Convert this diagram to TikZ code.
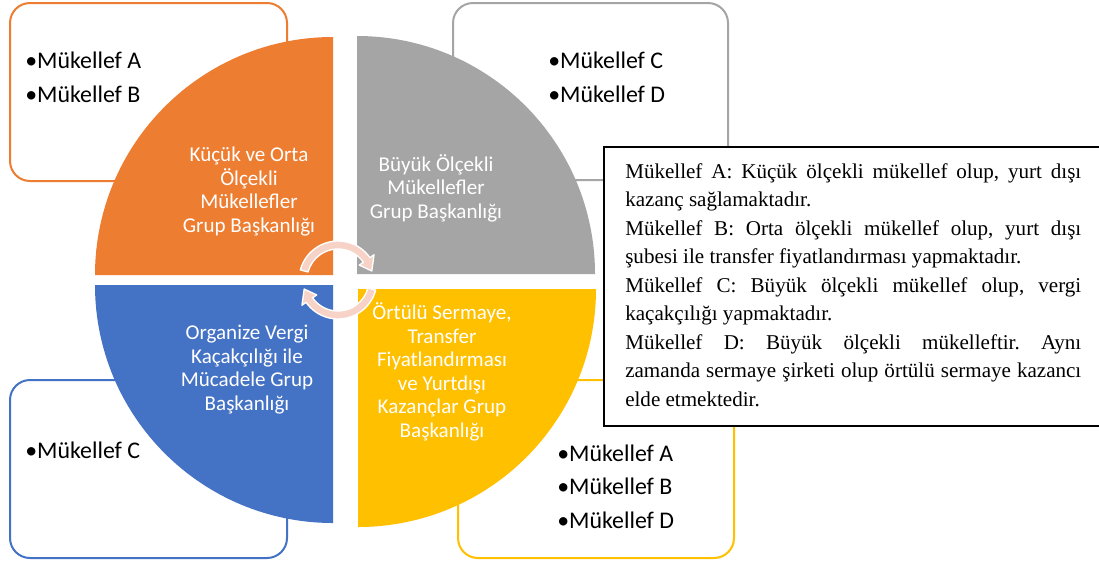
\documentclass[tikz,border=0pt]{standalone}
\usepackage{fontspec}
\setmainfont{Liberation Serif}
\newfontfamily\calibrifont{Carlito}

\definecolor{accOrange}{HTML}{ED7D31}
\definecolor{accGray}{HTML}{A5A5A5}
\definecolor{accBlue}{HTML}{4472C4}
\definecolor{accGold}{HTML}{FFC000}
\definecolor{cyclePink}{HTML}{F6D3C6}

\begin{document}
\begin{tikzpicture}[x=0.75pt,y=-0.75pt,
  panel/.style={line width=1.5pt, fill=white, rounded corners=15pt},
  % multi-line nodes: the base anchor sits on the last line
  lbl/.style={text=white, align=center, inner sep=0pt, anchor=base,
    font=\calibrifont\fontsize{15.8}{17.6}\selectfont},
  items/.style={align=left, inner sep=0pt, anchor=base west,
    font=\calibrifont\fontsize{17.9}{24.8}\selectfont},
  cyc/.style={fill=cyclePink, draw=white, line width=1pt, line join=round}]

\clip (0,0) rectangle (1099,565);
\fill[white] (0,0) rectangle (1099,565);

% rounded side panels
\draw[panel, draw=accOrange] (10,3) rectangle (287,181);
\draw[panel, draw=accGray]   (453,3) rectangle (728,180);
\draw[panel, draw=accBlue]   (10,380) rectangle (287,558);
\draw[panel, draw=accGold]   (458,380) rectangle (734,558);

% four quarter discs
\fill[accOrange] (333,275) -- (95,275) arc[start angle=180, end angle=270, radius=238] -- cycle;
\fill[accGray]   (357,274) -- (357,36) arc[start angle=270, end angle=360, radius=238] -- cycle;
\fill[accBlue]   (333,285) -- (333,523) arc[start angle=90, end angle=180, radius=238] -- cycle;
\fill[accGold]   (358,289) -- (596,289) arc[start angle=0, end angle=90, radius=238] -- cycle;

% circular arrows in the middle
\begin{scope}[shift={(338,280)}]
  \path[cyc] (195:39) arc[start angle=195, end angle=325, radius=39]
    -- (325:44) -- (345:35) -- (325:26) -- (325:31)
    arc[start angle=325, end angle=195, radius=31] -- cycle;
  \path[cyc] (15:39) arc[start angle=15, end angle=145, radius=39]
    -- (145:44) -- (165:35) -- (145:26) -- (145:31)
    arc[start angle=145, end angle=15, radius=31] -- cycle;
\end{scope}

% quarter labels (positioned by the baseline of their last line)
\node[lbl] (small) at (249,232) {Küçük ve Orta\\Ölçekli\\Mükellefler\\Grup Başkanlığı};
\node[lbl] (large) at (436,218) {Büyük Ölçekli\\Mükellefler\\Grup Başkanlığı};
\node[lbl] (organized) at (247,410) {Organize Vergi\\Kaçakçılığı ile\\Mücadele Grup\\Başkanlığı};
\node[lbl] (transfer) at (442,437) {Örtülü Sermaye,\\Transfer\\Fiyatlandırması\\ve Yurtdışı\\Kazançlar Grup\\Başkanlığı};

% taxpayer lists
\node[items] (listA) at (25,102) {•Mükellef A\\•Mükellef B};
\node[items] (listB) at (548,102) {•Mükellef C\\•Mükellef D};
\node[items] (listC) at (25,458) {•Mükellef C};
\node[items] (listD) at (557,528) {•Mükellef A\\•Mükellef B\\•Mükellef D};

% explanation box
\draw[line width=2pt, fill=white] (604,147) rectangle (1112,426);
\node[anchor=north west, inner sep=0pt, text width=342pt, align=justify,
  font=\fontsize{15.8}{21.4}\selectfont] (legend) at (625,163)
{\frenchspacing\hyphenpenalty=10000\emergencystretch=1em
Mükellef A: Küçük ölçekli mükellef olup, yurt dışı\linebreak kazanç sağlamaktadır.\par
Mükellef B: Orta ölçekli mükellef olup, yurt dışı\linebreak şubesi ile transfer fiyatlandırması yapmaktadır.\par
Mükellef C: Büyük ölçekli mükellef olup, vergi\linebreak kaçakçılığı yapmaktadır.\par
Mükellef D: Büyük ölçekli mükelleftir. Aynı\linebreak zamanda sermaye şirketi olup örtülü sermaye kazancı\linebreak elde etmektedir.\par};
\end{tikzpicture}
\end{document}
